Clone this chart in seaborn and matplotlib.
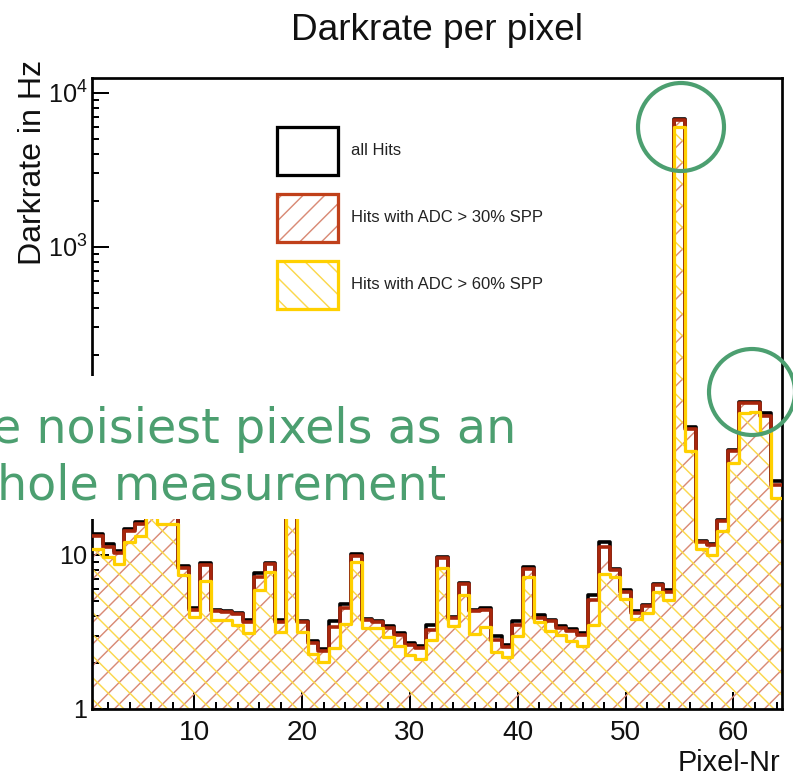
import numpy as np
import pandas as pd
import matplotlib
matplotlib.use("Agg")
import matplotlib.pyplot as plt
import seaborn as sns
from matplotlib.patches import Patch, Rectangle, Ellipse
from matplotlib.legend_handler import HandlerTuple
from matplotlib.ticker import MultipleLocator, LogLocator, NullFormatter

# ---------------- data ----------------
pixels = list(range(1, 65))

all_hits = [13.6, 11.7, 10.6, 14.8, 16.3, 22.0, 24.0, 21.0, 8.5, 4.5,
            8.9, 4.4, 4.3, 4.2, 3.8, 7.6, 8.9, 3.8, 120.0, 3.75,
            2.75, 2.45, 3.7, 4.8, 10.1, 3.85, 3.75, 3.45, 3.1, 2.7,
            2.55, 3.5, 9.7, 3.95, 6.6, 4.4, 4.5, 3.0, 2.6, 3.75,
            8.3, 4.1, 3.8, 3.45, 3.3, 3.1, 5.5, 12.2, 8.1, 5.9,
            4.3, 4.75, 6.5, 5.9, 6750.0, 68.0, 12.4, 11.8, 16.8, 48.0,
            98.0, 98.0, 83.0, 30.4]

adc30 = [13.2, 11.3, 10.3, 14.3, 15.8, 21.0, 23.0, 20.5, 8.2, 4.4,
         8.6, 4.33, 4.24, 4.12, 3.66, 7.2, 8.7, 3.66, 115.0, 3.66,
         2.67, 2.39, 3.42, 4.5, 9.9, 3.78, 3.69, 3.37, 3.02, 2.6,
         2.48, 3.26, 9.5, 3.88, 6.45, 4.33, 4.4, 2.8, 2.54, 3.51,
         8.1, 3.92, 3.73, 3.37, 3.2, 3.02, 5.1, 11.3, 8.0, 5.78,
         4.22, 4.67, 6.38, 5.78, 6700.0, 65.5, 12.2, 11.6, 16.5, 47.4,
         96.6, 96.6, 80.0, 28.5]

adc60 = [11.0, 9.75, 8.8, 12.2, 13.2, 19.0, 15.8, 15.8, 7.4, 3.97,
         6.8, 3.78, 3.78, 3.51, 3.10, 5.9, 7.7, 3.18, 100.0, 3.18,
         2.27, 2.03, 2.48, 3.55, 8.96, 3.34, 3.37, 2.95, 2.58, 2.24,
         2.11, 2.8, 8.27, 3.47, 5.5, 3.05, 3.39, 2.36, 2.19, 2.99,
         7.2, 3.66, 3.21, 3.02, 2.75, 2.56, 3.51, 7.5, 7.2, 5.15,
         3.82, 4.17, 5.78, 5.1, 6000.0, 47.5, 11.0, 10.0, 14.4, 39.7,
         83.2, 84.8, 63.0, 23.4]

x_ticks = [10, 20, 30, 40, 50, 60]
y_ticks = [1, 10, 100, 1000, 10000]
y_tick_labels = ["1", "10", r"$10^{2}$", r"$10^{3}$", r"$10^{4}$"]
legend_labels = ["all Hits", "Hits with ADC > 30% SPP", "Hits with ADC > 60% SPP"]

# ---------------- style ----------------
sns.set_theme(style="ticks")
plt.rcParams["font.family"] = ["Liberation Sans", "DejaVu Sans"]
plt.rcParams["mathtext.fontset"] = "custom"
plt.rcParams["mathtext.rm"] = "Liberation Sans"
plt.rcParams["mathtext.it"] = "Liberation Sans:italic"
plt.rcParams["mathtext.bf"] = "Liberation Sans:bold"
plt.rcParams["hatch.linewidth"] = 0.8

BLACK = "#000000"
RED = "#a8260c"
RED_HATCH = "#d98a76"
YEL = "#ffd000"
YEL_HATCH = "#fbd84c"
GREEN = "#4c9f70"

W, H, DPI = 793, 774, 130
fig = plt.figure(figsize=(W / DPI, H / DPI), dpi=DPI)
fig.patch.set_facecolor("white")
ax = fig.add_axes([92 / W, 1 - 709 / H, 690 / W, 631 / H])
ax.set_facecolor("white")

df = pd.DataFrame({"pixel": pixels, "all": all_hits, "adc30": adc30, "adc60": adc60})
edges = np.arange(0.5, len(pixels) + 1.0, 1.0)

# hatched fills
ax.stairs(df["adc30"].values, edges, baseline=1, fill=True, facecolor="none",
          edgecolor=RED_HATCH, linewidth=0, hatch="//", zorder=1)
ax.stairs(df["adc60"].values, edges, baseline=1, fill=True, facecolor="none",
          edgecolor=YEL_HATCH, linewidth=0, hatch="\\\\", zorder=1.1)

# outlines via seaborn
for col, c, lw, z in [("all", BLACK, 2.0, 2), ("adc30", RED, 2.0, 3), ("adc60", YEL, 1.8, 4)]:
    sns.histplot(data=df, x="pixel", weights=col, discrete=True, element="step",
                 fill=False, color=c, linewidth=lw, ax=ax, zorder=z)

ax.set_yscale("log")
ax.set_xlim(0.5, 64.5)
ax.set_ylim(1, 12500)
ax.set_xlabel("")
ax.set_ylabel("")

ax.set_xticks(x_ticks)
ax.set_xticklabels([str(v) for v in x_ticks])
ax.xaxis.set_minor_locator(MultipleLocator(2))
ax.set_yticks(y_ticks)
ax.set_yticklabels(y_tick_labels)
ax.yaxis.set_minor_locator(LogLocator(base=10, subs=np.arange(2, 10)))
ax.yaxis.set_minor_formatter(NullFormatter())
ax.tick_params(which="both", direction="in", top=False, right=False, color="black")
ax.tick_params(which="major", length=9.4, width=1.1, labelcolor="#111111")
ax.tick_params(which="minor", length=4.0, width=1.1)
ax.tick_params(axis="x", which="major", pad=6, labelsize=15.5)
ax.tick_params(axis="y", which="major", pad=2.5, labelsize=14)
for s in ax.spines.values():
    s.set_color("black")
    s.set_linewidth(1.5)
    s.set_visible(True)

# axis titles
fig.text(437 / W, 1 - 30 / H, "Darkrate per pixel", ha="center", va="center", fontsize=20.5, color="#111111")
fig.text(33 / W, 1 - 60 / H, "Darkrate in Hz", rotation=90, ha="center", va="top", fontsize=17.8, color="#111111")
fig.text(780 / W, 1 - 763 / H, "Pixel-Nr", ha="right", va="center", fontsize=16, color="#111111")

# legend
h_all = Patch(facecolor="white", edgecolor=BLACK, linewidth=1.8)
h_30 = (Patch(facecolor="white", edgecolor=RED_HATCH, hatch="//", linewidth=0),
        Patch(facecolor="none", edgecolor="#c0401a", linewidth=1.8))
h_60 = (Patch(facecolor="white", edgecolor=YEL_HATCH, hatch="\\\\", linewidth=0),
        Patch(facecolor="none", edgecolor=YEL, linewidth=1.8))
leg = ax.legend([h_all, h_30, h_60], legend_labels,
                handler_map={tuple: HandlerTuple(ndivide=1, pad=0)},
                loc="upper left", bbox_to_anchor=((277 - 92) / 690, (709 - 127) / 631),
                frameon=False, borderpad=0, borderaxespad=0, fontsize=9.2,
                handlelength=3.7, handleheight=4.04, labelspacing=1.16, handletextpad=0.75)
for t in leg.get_texts():
    t.set_color("#222222")

# overlay text box (slide overlay)
fig.add_artist(Rectangle((-10 / W, 1 - 519 / H), 550 / W, 143 / H, transform=fig.transFigure,
                         facecolor="white", edgecolor="none", zorder=10))
fig.text(-8 / W, 1 - 443 / H, "e noisiest pixels as an", ha="left", va="baseline",
         fontsize=26.4, color=GREEN, family="DejaVu Sans", zorder=11)
fig.text(-3 / W, 1 - 500 / H, "hole measurement", ha="left", va="baseline",
         fontsize=26.4, color=GREEN, family="DejaVu Sans", zorder=11)

# highlight circles
for (cx, cy, ew, eh) in [(681, 127, 86, 88), (752, 392, 86, 86)]:
    fig.add_artist(Ellipse((cx / W, 1 - cy / H), ew / W, eh / H, transform=fig.transFigure,
                           facecolor="none", edgecolor=GREEN, linewidth=2.3, zorder=12))

fig.savefig("out.png", dpi=DPI)
